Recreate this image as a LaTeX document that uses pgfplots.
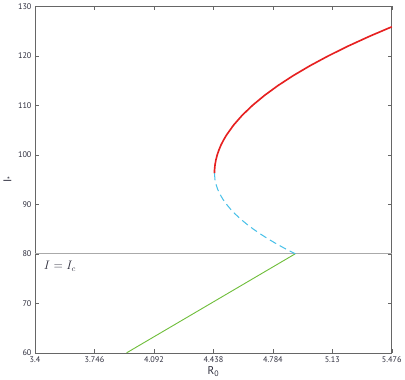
\documentclass[border=0pt]{standalone}
\usepackage{fontspec}
\setmainfont{PT Sans}
\usepackage{pgfplots}
\pgfplotsset{compat=1.18}
\definecolor{BranchRed}{RGB}{230,32,32}
\definecolor{BranchCyan}{RGB}{72,192,232}
\definecolor{BranchGreen}{RGB}{112,190,60}
\definecolor{LineGray}{RGB}{170,170,170}
\definecolor{TextDark}{RGB}{45,45,60}
\begin{document}
\begin{tikzpicture}
\begin{axis}[
    scale only axis,
    width=347bp,
    height=337bp,
    xmin=3.4, xmax=5.476,
    ymin=60, ymax=130,
    xtick={3.4,3.746,4.092,4.438,4.784,5.13,5.476},
    xticklabels={3.4,3.746,4.092,4.438,4.784,5.13,5.476},
    ytick={60,70,80,90,100,110,120,130},
    tick align=inside,
    major tick length=4pt,
    tick style={draw=black!60, line width=0.5pt},
    axis line style={draw=black!60, line width=0.6pt},
    tick label style={font=\fontsize{8}{9}\selectfont, text=TextDark},
    /pgf/number format/assume math mode=true,
    xlabel={R\textsubscript{0}},
    ylabel={I\textsubscript{*}},
    label style={font=\fontsize{11}{12}\selectfont, text=TextDark},
    xlabel style={yshift=3pt},
    ylabel style={yshift=-2pt},
    clip=false,
]
\addplot[LineGray, line width=0.9pt] coordinates {(3.4,80) (5.476,80)};
\addplot[BranchGreen, line width=0.9pt] coordinates {(3.933,60) (4.914,80)};
% unstable branch (dashed)
\addplot[BranchCyan, line width=1.0pt, dash pattern=on 7bp off 4bp, line join=round] coordinates {
    (4.444,96.3) (4.447,95) (4.4534,94) (4.4633,93) (4.4767,92)
    (4.4937,91) (4.5143,90) (4.5383,89) (4.5659,88) (4.5971,87)
    (4.6318,86) (4.6700,85) (4.7118,84) (4.7571,83) (4.8059,82)
    (4.8583,81) (4.9143,80)
};
% stable branch
\addplot[BranchRed, line width=1.6pt, line join=round] coordinates {
    (4.444,96.3) (4.4446,97) (4.4474,98) (4.4526,99) (4.4602,100)
    (4.4701,101) (4.4823,102) (4.4970,103) (4.5140,104) (4.5550,106)
    (4.6055,108) (4.6655,110) (4.7349,112) (4.8137,114) (4.9020,116)
    (4.9997,118) (5.1068,120) (5.2234,122) (5.3494,124) (5.476,125.87)
};
\node[anchor=north west, text=TextDark, font=\fontsize{12}{13}\selectfont]
    at (axis cs:3.43,79.2) {$I = I_c$};
\end{axis}
\end{tikzpicture}
\end{document}
